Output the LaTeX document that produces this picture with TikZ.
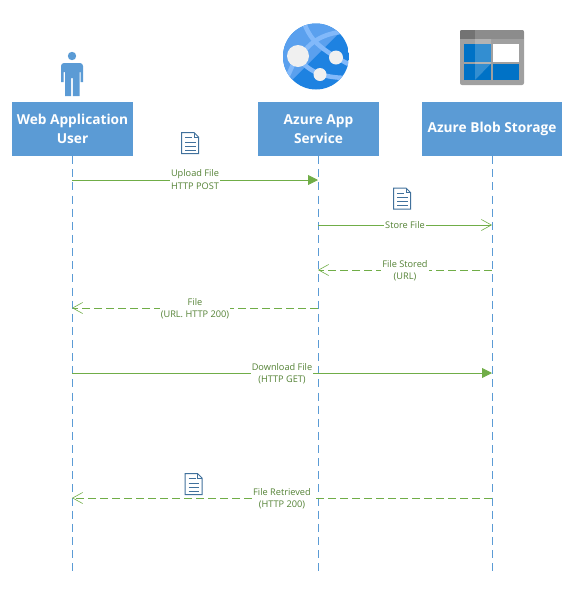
\documentclass[tikz,border=0pt]{standalone}
\usepackage{fontspec}
\setmainfont{Open Sans}
\usetikzlibrary{arrows.meta}
\definecolor{boxblue}{HTML}{5B9BD5}
\definecolor{arrowgreen}{HTML}{70AD47}
\definecolor{labelgreen}{HTML}{548235}
\definecolor{docblue}{HTML}{41719C}
\definecolor{appdark}{RGB}{30,130,225}
\definecolor{applight}{RGB}{90,160,238}
\definecolor{appband}{RGB}{130,185,250}
\definecolor{appdot}{RGB}{240,240,240}
\definecolor{stgray}{RGB}{160,160,160}
\definecolor{stmid}{RGB}{140,140,140}
\definecolor{stdark}{RGB}{115,115,115}
\definecolor{stblue}{RGB}{0,114,198}
\tikzset{
  actor/.style={fill=boxblue,text=white,font=\fontsize{13.7}{18.5}\selectfont\bfseries,align=center,inner sep=0pt,minimum height=54pt},
  lifeline/.style={draw=boxblue,line width=0.8pt,dash pattern=on 8pt off 5.13pt},
  msg/.style={draw=arrowgreen,line width=0.85pt},
  back/.style={msg,dash pattern=on 8pt off 4pt},
  solidtip/.style={-{Triangle[length=10pt,width=10pt,fill=arrowgreen]}},
  opentip/.style={-{Straight Barb[length=10pt,width=11pt,line width=0.6pt]}},
  msglabel/.style={fill=white,text=labelgreen,font=\fontsize{9.2}{12.2}\selectfont,align=center,inner sep=1pt},
  docicon/.pic={
    \draw[docblue,line width=1pt,fill=white] (-8.5,-10.5) -- (4,-10.5) -- (8.5,-6) -- (8.5,10.5) -- (-8.5,10.5) -- cycle;
    \draw[docblue,line width=0.8pt] (4,-10.5) -- (4,-6) -- (8.5,-6);
    \draw[docblue,line width=0.8pt] (-5,-5.5) -- (2,-5.5) (-5,-1) -- (5.5,-1) (-5,3) -- (5.5,3) (-5,7) -- (5.5,7);
  }
}
\begin{document}
\begin{tikzpicture}[x=1pt,y=-1pt]
\useasboundingbox (0,0) rectangle (579,590);
% actors
\node[actor,minimum width=121pt] (user) at (72.5,129) {Web Application\\User};
\node[actor,minimum width=121pt] (app) at (318.5,129) {Azure App\\Service};
\node[actor,minimum width=140pt] (blob) at (492,129) {Azure Blob Storage};
% lifeline ends
\coordinate (userEnd) at (72,571);
\coordinate (appEnd) at (318,571);
\coordinate (blobEnd) at (492,571);
\draw[lifeline] (user.south -| userEnd) -- (userEnd);
\draw[lifeline] (app.south -| appEnd) -- (appEnd);
\draw[lifeline] (blob.south -| blobEnd) -- (blobEnd);
% anchor points
\foreach \nm/\px in {u/72,a/318,b/492}{
  \foreach \py in {180,225,270,308,373,498}{
    \coordinate (\nm\py) at (\px,\py);
  }
}
% messages
\draw[msg,solidtip] (u180) -- (a180);
\draw[msg,opentip] (a225) -- (b225);
\draw[back,opentip] (b270) -- (a270);
\draw[back,opentip] (a308) -- (u308);
\draw[msg,solidtip] (u373) -- (b373);
\draw[back,opentip] (b498) -- (u498);
% labels
\node[msglabel] (l1) at (195,179.5) {Upload File\\HTTP POST};
\node[msglabel] (l2) at (405,225) {Store File};
\node[msglabel] (l3) at (405,270.5) {File Stored\\(URL)};
\node[msglabel] (l4) at (195,308.5) {File\\(URL. HTTP 200)};
\node[msglabel] (l5) at (282,373.5) {Download File\\(HTTP GET)};
\node[msglabel] (l6) at (282,498.5) {File Retrieved\\(HTTP 200)};
% documents
\pic at (190,143) {docicon};
\pic at (402,198.5) {docicon};
\pic at (193.5,484) {docicon};
% person
\fill[boxblue] (72,56) circle (4.2);
\fill[boxblue] (64,63) -- (80,63) to[out=0,in=90] (83,66) -- (83,82) -- (80.5,82) -- (80.5,72) -- (79.5,72) -- (79.5,96) -- (72.8,96) -- (72.8,78) -- (71.2,78) -- (71.2,96) -- (65,96) -- (65,72) -- (63.5,72) -- (63.5,82) -- (61,82) -- (61,66) to[out=90,in=180] cycle;
% app service icon
\begin{scope}
  \clip (316,56.5) circle (33);
  \fill[appdark] (283,23) rectangle (349,90);
  \fill[applight] (283,23) -- (349,23) -- (283,89) -- cycle;
  \draw[appband,line width=4.5pt] (303,20) .. controls (310,40) and (318,48) .. (352,66);
  \draw[appband,line width=4.5pt] (298,60) .. controls (310,40) and (325,32) .. (352,31);
  \draw[appband,line width=4.5pt] (298,58) .. controls (310,72) and (322,78) .. (350,78);
  \draw[appband,line width=4.5pt] (295,60) -- (286,80);
\end{scope}
\fill[appdot] (298,56) circle (11);
\fill[appdot] (336,57.5) circle (7);
\fill[appdot] (320,74.5) circle (6.5);
% storage icon
\fill[stgray,rounded corners=2pt] (460,30) rectangle (524,85);
\begin{scope}
  \clip[rounded corners=2pt] (460,30) rectangle (524,85);
  \fill[stmid] (460,30) rectangle (524,39);
  \fill[stdark] (460,30) rectangle (475,39);
\end{scope}
\fill[stblue] (464,44) rectangle (491,62);
\fill[white] (493,44) rectangle (519,62);
\fill[stblue] (464,63.5) rectangle (491,80);
\fill[stblue] (493,63.5) rectangle (519,80);
\fill[white,opacity=0.2] (475,39) -- (475,80) -- (491,63.5) -- (491,39) -- cycle;
\end{tikzpicture}
\end{document}
